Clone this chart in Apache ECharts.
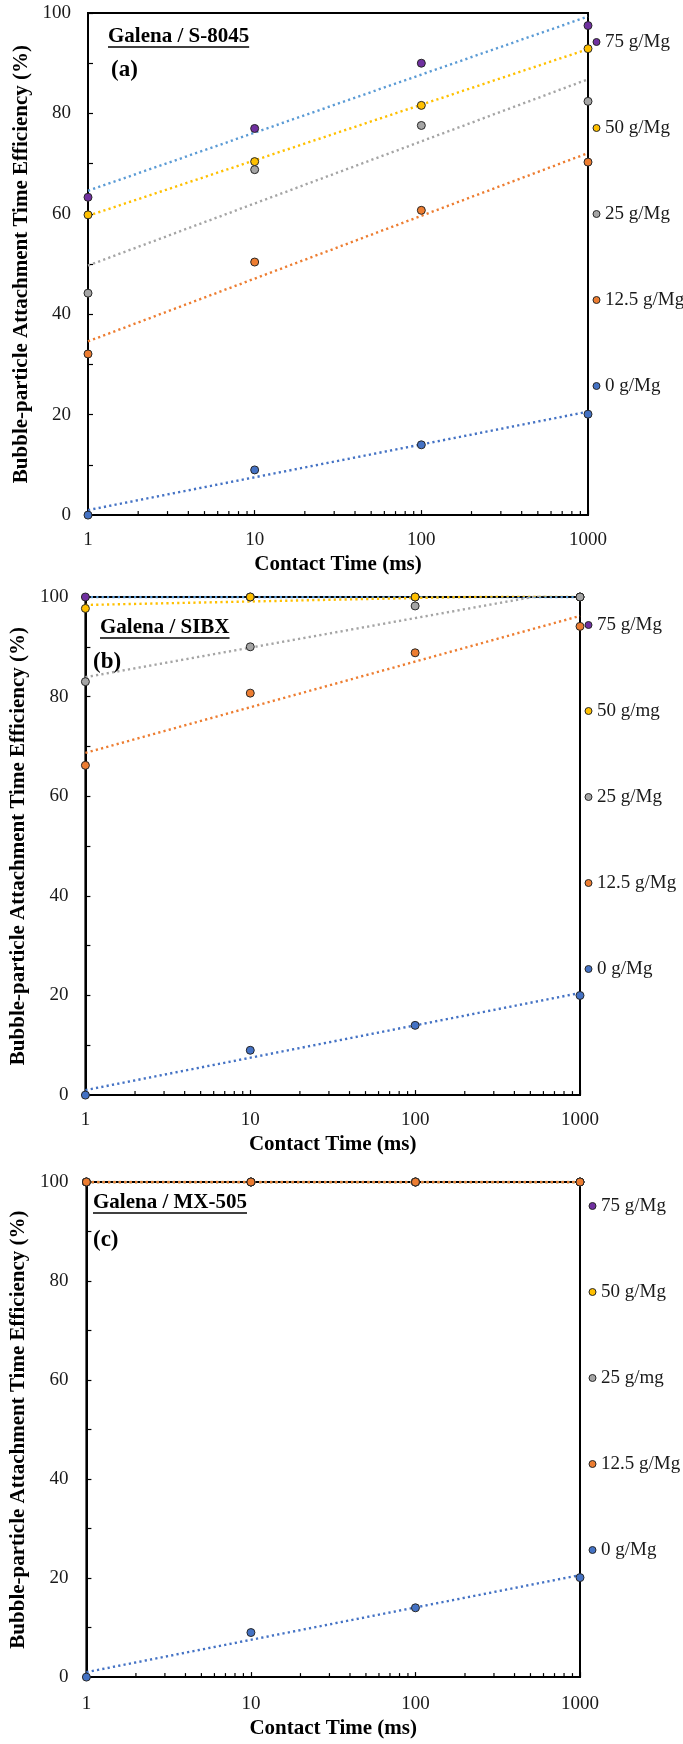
<!DOCTYPE html>
<html>
<head>
<meta charset="utf-8">
<script src="https://cdn.jsdelivr.net/npm/echarts@6/dist/echarts.min.js"></script>
<style>
  html, body { margin: 0; padding: 0; background: #fff; }
  #wrap { position: relative; width: 683px; height: 1744px; }
  .panel { position: absolute; left: 0; width: 683px; }
</style>
</head>
<body>
<div id="wrap">
  <div id="pa" class="panel" style="top:0;height:580px"></div>
  <div id="pb" class="panel" style="top:580px;height:580px"></div>
  <div id="pc" class="panel" style="top:1160px;height:584px"></div>
</div>
<script>
// Contact times (ms) used for every collector
const contactTimes = [1, 10, 100, 1000];
// Minor tick positions on the logarithmic time axis
const minorTickTimes = [2, 3, 4, 5, 6, 7, 8, 9, 20, 30, 40, 50, 60, 70, 80, 90, 200, 300, 400, 500, 600, 700, 800, 900];

// Legend labels, highest dosage first
const legendS8045 = ['75 g/Mg', '50 g/Mg', '25 g/Mg', '12.5 g/Mg', '0 g/Mg'];
const legendSIBX = ['75 g/Mg', '50 g/mg', '25 g/Mg', '12.5 g/Mg', '0 g/Mg'];
const legendMX505 = ['75 g/Mg', '50 g/Mg', '25 g/mg', '12.5 g/Mg', '0 g/Mg'];

// Galena / S-8045 attachment efficiency (%)
const s8045_75 = [63.3, 77.0, 90.0, 97.5];
const s8045_50 = [59.8, 70.4, 81.6, 92.9];
const s8045_25 = [44.2, 68.8, 77.6, 82.4];
const s8045_125 = [32.1, 50.4, 60.7, 70.3];
const s8045_0 = [0, 9.0, 14.0, 20.1];
// Logarithmic trendline values at 1 ms and 1000 ms
const s8045TrendStart = [64.6, 59.6, 49.7, 34.6, 1.0];
const s8045TrendEnd = [99.3, 92.8, 86.8, 72.1, 20.6];

// Galena / SIBX attachment efficiency (%)
const sibx_75 = [100, 100, 100, 100];
const sibx_50 = [97.7, 100, 100, 100];
const sibx_25 = [83.0, 90.0, 98.2, 100];
const sibx_125 = [66.2, 80.7, 88.8, 94.1];
const sibx_0 = [0, 9.0, 14.0, 20.0];
const sibxTrendStart = [100, 98.4, 83.9, 68.7, 1.0];
const sibxTrendEnd = [100, 100.5, 101.7, 96.2, 20.5];

// Galena / MX-505 attachment efficiency (%)
const mx505_75 = [100, 100, 100, 100];
const mx505_50 = [100, 100, 100, 100];
const mx505_25 = [100, 100, 100, 100];
const mx505_125 = [100, 100, 100, 100];
const mx505_0 = [0, 9.0, 14.0, 20.1];
const mx505TrendStart = [100, 100, 100, 100, 1.0];
const mx505TrendEnd = [100, 100, 100, 100, 20.6];

const markerColors = ['#7030A0', '#FFC000', '#A5A5A5', '#ED7D31', '#4472C4'];
const trendColors = ['#5B9BD5', '#FFC000', '#A5A5A5', '#ED7D31', '#4472C4'];
const FONT = '"Liberation Serif", "Times New Roman", serif';
const TEXT = '#1a1a1a';

const measureCtx = document.createElement('canvas').getContext('2d');
function textWidth(str, font) {
  measureCtx.font = font;
  return measureCtx.measureText(str).width;
}

function buildPanel(layout, names, values, trendStart, trendEnd) {
  const chart = echarts.init(document.getElementById(layout.el), null, { renderer: 'canvas' });
  const series = [];

  // short upward minor ticks along the time axis
  series.push({
    type: 'custom',
    silent: true,
    z: 1,
    data: minorTickTimes.map(t => [t, 0]),
    renderItem: (params, api) => {
      const p = api.coord([api.value(0), api.value(1)]);
      return {
        type: 'line',
        shape: { x1: p[0], y1: p[1], x2: p[0], y2: p[1] - 4 },
        style: { stroke: '#000', lineWidth: 1.2 }
      };
    }
  });

  // dotted logarithmic trendlines
  names.forEach((name, i) => {
    series.push({
      type: 'line',
      name: name + ' trend',
      silent: true,
      z: 3,
      symbol: 'none',
      data: [[contactTimes[0], trendStart[i]], [contactTimes[contactTimes.length - 1], trendEnd[i]]],
      lineStyle: { color: trendColors[i], width: 2.4, type: [2.2, 3.2] }
    });
  });

  // measured points
  names.forEach((name, i) => {
    series.push({
      type: 'scatter',
      name: name,
      z: 4,
      symbol: 'circle',
      symbolSize: 8,
      data: contactTimes.map((t, k) => [t, values[i][k]]),
      itemStyle: { color: markerColors[i], borderColor: '#262626', borderWidth: 1, opacity: 1 }
    });
  });

  const headFont = 'bold 21px "Liberation Serif"';
  const headW = textWidth(layout.heading.text, headFont);

  chart.setOption({
    animation: false,
    grid: Object.assign({ show: true, borderColor: '#000', borderWidth: 2, backgroundColor: 'transparent' }, layout.grid),
    legend: {
      orient: 'vertical',
      left: layout.legend.left,
      top: layout.legend.top,
      padding: 0,
      data: names,
      icon: 'circle',
      itemWidth: 7,
      itemHeight: 7,
      itemGap: 66,
      selectedMode: false,
      itemStyle: { borderColor: '#262626', borderWidth: 1 },
      textStyle: { fontFamily: FONT, fontSize: 19, color: TEXT, lineHeight: 20 }
    },
    xAxis: {
      type: 'log',
      logBase: 10,
      min: 1,
      max: 1000,
      axisLine: { lineStyle: { color: '#000', width: 2 } },
      axisTick: { inside: true, length: 5, lineStyle: { color: '#000', width: 1.2 } },
      axisLabel: { fontFamily: FONT, fontSize: 19, color: TEXT, margin: layout.xLabelMargin, formatter: v => String(Math.round(v)) },
      splitLine: { show: false },
      name: 'Contact Time (ms)',
      nameLocation: 'middle',
      nameGap: layout.xNameGap,
      nameTextStyle: { fontFamily: FONT, fontSize: 21, fontWeight: 'bold', color: '#000' }
    },
    yAxis: {
      type: 'value',
      min: 0,
      max: 100,
      interval: 10,
      axisLine: { show: true, lineStyle: { color: '#000', width: 2 } },
      axisTick: { show: true, inside: true, length: 5, lineStyle: { color: '#000', width: 1.2 } },
      axisLabel: { fontFamily: FONT, fontSize: 19, color: TEXT, margin: layout.yLabelMargin, formatter: v => (v % 20 === 0 ? String(v) : '') },
      splitLine: { show: false },
      name: 'Bubble-particle Attachment Time Efficiency (%)',
      nameLocation: 'middle',
      nameGap: layout.yNameGap,
      nameTextStyle: { fontFamily: FONT, fontSize: 21, fontWeight: 'bold', color: '#000' }
    },
    graphic: [
      {
        type: 'text', x: layout.heading.x, y: layout.heading.y, z: 10,
        style: { text: layout.heading.text, font: headFont, fill: '#000', align: 'left', verticalAlign: 'middle' }
      },
      {
        type: 'line', z: 10,
        shape: { x1: layout.heading.x, y1: layout.heading.y + 10, x2: layout.heading.x + headW, y2: layout.heading.y + 10 },
        style: { stroke: '#000', lineWidth: 1.5 }
      },
      {
        type: 'text', x: layout.tag.x, y: layout.tag.y, z: 10,
        style: { text: layout.tag.text, font: 'bold 23px "Liberation Serif"', fill: '#000', align: 'left', verticalAlign: 'middle' }
      }
    ],
    series: series
  });
  return chart;
}

buildPanel(
  {
    el: 'pa', grid: { left: 88, top: 13, width: 500, height: 510 },
    xLabelMargin: 15, xNameGap: 30, yLabelMargin: 17, yNameGap: 53,
    legend: { left: 592.5, top: 32 },
    heading: { text: 'Galena / S-8045', x: 108, y: 37 },
    tag: { text: '(a)', x: 111, y: 70 }
  },
  legendS8045,
  [s8045_75, s8045_50, s8045_25, s8045_125, s8045_0],
  s8045TrendStart, s8045TrendEnd
);

buildPanel(
  {
    el: 'pb', grid: { left: 80, top: 17, width: 500, height: 506 },
    xLabelMargin: 15, xNameGap: 33, yLabelMargin: 17, yNameGap: 46,
    legend: { left: 584.5, top: 35 },
    heading: { text: 'Galena / SIBX', x: 100, y: 48 },
    tag: { text: '(b)', x: 93, y: 82 }
  },
  legendSIBX,
  [sibx_75, sibx_50, sibx_25, sibx_125, sibx_0],
  sibxTrendStart, sibxTrendEnd
);

buildPanel(
  {
    el: 'pc', grid: { left: 77, top: 22, width: 503, height: 501 },
    xLabelMargin: 17, xNameGap: 32, yLabelMargin: 18, yNameGap: 43,
    legend: { left: 588.5, top: 36 },
    heading: { text: 'Galena / MX-505', x: 93, y: 43 },
    tag: { text: '(c)', x: 93, y: 80 }
  },
  legendMX505,
  [mx505_75, mx505_50, mx505_25, mx505_125, mx505_0],
  mx505TrendStart, mx505TrendEnd
);
</script>
</body>
</html>
